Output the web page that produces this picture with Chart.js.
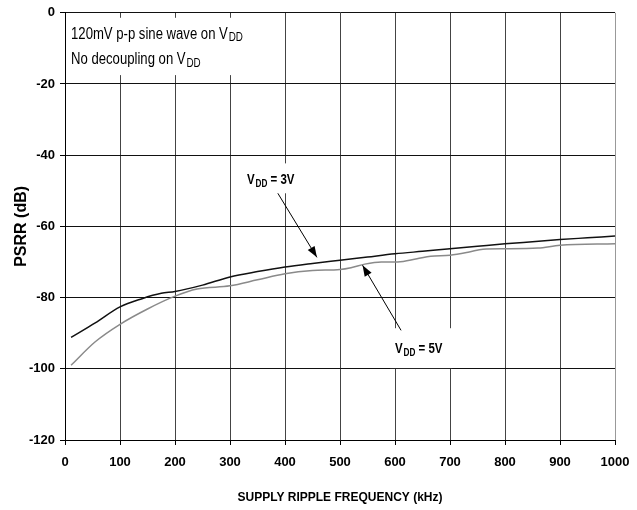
<!DOCTYPE html>
<html>
<head>
<meta charset="utf-8">
<script src="https://cdn.jsdelivr.net/npm/chart.js@4/dist/chart.umd.min.js"></script>
<style>
  html, body { margin: 0; padding: 0; background: #fff; }
  #wrap { position: relative; width: 637px; height: 510px; }
</style>
</head>
<body>
<div id="wrap"><canvas id="chart" width="637" height="510"></canvas></div>
<script>
// values
const freq3V = [11, 55, 100, 140, 175, 200, 250, 300, 350, 400, 450, 500, 550, 600, 650, 700, 750, 800, 850, 900, 950, 1000];
const psrr3V = [-91.2, -87.1, -82.6, -80.3, -78.8, -78.3, -76.5, -74.2, -72.7, -71.4, -70.4, -69.5, -68.6, -67.7, -67.0, -66.3, -65.6, -64.9, -64.3, -63.7, -63.2, -62.7];

const freq5V = [11, 55, 100, 150, 200, 240, 300, 350, 400, 450, 500, 520, 545, 575, 605, 640, 665, 700, 735, 760, 800, 860, 900, 1000];
const psrr5V = [-99.0, -92.4, -87.5, -83.2, -79.6, -77.6, -76.7, -75.0, -73.3, -72.4, -72.1, -71.6, -70.6, -70.0, -70.0, -69.1, -68.4, -68.1, -67.2, -66.4, -66.3, -66.1, -65.3, -64.9];

const xTicks = [0, 100, 200, 300, 400, 500, 600, 700, 800, 900, 1000];
const yTicks = [0, -20, -40, -60, -80, -100, -120];

const xTitle = 'SUPPLY RIPPLE FREQUENCY (kHz)';
const yTitle = 'PSRR (dB)';

const FONT = "'Liberation Sans', Arial, sans-serif";
const NARROW = 0.82; // no narrow face installed, squeeze the annotation text instead

// annotations, in data units
const noteLines = ['120mV p-p sine wave on V', 'No decoupling on V'];
const notes = [
  { box: [2, -1.4, 318, -17.5] },
  { box: [318, -42.3, 427, -50.7], text: 'V', sub: 'DD', rest: ' = 3V', at: [331, -47.1], from: [387, -50.7], to: [458, -68.7] },
  { box: [591, -88.6, 704, -99.8], text: 'V', sub: 'DD', rest: ' = 5V', at: [600, -94.5], from: [611, -89.2], to: [541, -70.9] }
];

function toPx(chart, p) {
  return [chart.scales.x.getPixelForValue(p[0]), chart.scales.y.getPixelForValue(p[1])];
}

function drawVdd(ctx, x, y, main, sub, rest, weight, size) {
  ctx.save();
  ctx.translate(x, y);
  ctx.scale(NARROW, 1);
  ctx.textBaseline = 'middle';
  ctx.textAlign = 'left';
  let cx = 0;
  ctx.font = weight + ' ' + size + 'px ' + FONT;
  ctx.fillText(main, cx, 0);
  cx += ctx.measureText(main).width + 1;
  ctx.font = weight + ' ' + Math.round(size * 0.72) + 'px ' + FONT;
  ctx.fillText(sub, cx, 4);
  cx += ctx.measureText(sub).width;
  ctx.font = weight + ' ' + size + 'px ' + FONT;
  ctx.fillText(rest, cx, 0);
  ctx.restore();
}

function arrow(ctx, a, b) {
  ctx.save();
  ctx.strokeStyle = '#000';
  ctx.fillStyle = '#000';
  ctx.lineWidth = 1;
  ctx.beginPath();
  ctx.moveTo(a[0], a[1]);
  ctx.lineTo(b[0], b[1]);
  ctx.stroke();
  const ang = Math.atan2(b[1] - a[1], b[0] - a[0]);
  const len = 11, w = 4;
  ctx.beginPath();
  ctx.moveTo(b[0], b[1]);
  ctx.lineTo(b[0] - len * Math.cos(ang) + w * Math.sin(ang), b[1] - len * Math.sin(ang) - w * Math.cos(ang));
  ctx.lineTo(b[0] - len * Math.cos(ang) - w * Math.sin(ang), b[1] - len * Math.sin(ang) + w * Math.cos(ang));
  ctx.closePath();
  ctx.fill();
  ctx.restore();
}

const annotate = {
  id: 'annotate',
  beforeDatasetsDraw(chart) {
    const ctx = chart.ctx;
    ctx.save();
    ctx.fillStyle = '#fff';
    notes.forEach(n => {
      const p1 = toPx(chart, [n.box[0], n.box[1]]);
      const p2 = toPx(chart, [n.box[2], n.box[3]]);
      ctx.fillRect(p1[0], p1[1], p2[0] - p1[0], p2[1] - p1[1]);
    });
    ctx.restore();
  },
  afterDatasetsDraw(chart) {
    const ctx = chart.ctx;
    ctx.save();
    ctx.fillStyle = '#000';
    const x0 = chart.scales.x.getPixelForValue(11);
    drawVdd(ctx, x0, chart.scales.y.getPixelForValue(-6.0), noteLines[0], 'DD', '', 'normal', 16);
    drawVdd(ctx, x0, chart.scales.y.getPixelForValue(-13.1), noteLines[1], 'DD', '', 'normal', 16);
    notes.slice(1).forEach(n => {
      const t = toPx(chart, n.at);
      drawVdd(ctx, t[0], t[1], n.text, n.sub, n.rest, 'bold', 14);
      arrow(ctx, toPx(chart, n.from), toPx(chart, n.to));
    });
    ctx.restore();
  }
};

new Chart(document.getElementById('chart'), {
  type: 'line',
  data: {
    datasets: [
      {
        label: 'VDD = 3V',
        data: freq3V.map((f, i) => ({ x: f, y: psrr3V[i] })),
        borderColor: '#111',
        borderWidth: 1.5,
        pointRadius: 0,
        cubicInterpolationMode: 'monotone'
      },
      {
        label: 'VDD = 5V',
        data: freq5V.map((f, i) => ({ x: f, y: psrr5V[i] })),
        borderColor: '#8a8a8a',
        borderWidth: 1.5,
        pointRadius: 0,
        cubicInterpolationMode: 'monotone'
      }
    ]
  },
  options: {
    responsive: false,
    animation: false,
    layout: { padding: { top: 12, right: 22, left: 0, bottom: 0 } },
    plugins: { legend: { display: false }, tooltip: { enabled: false } },
    scales: {
      x: {
        type: 'linear',
        min: 0,
        max: 1000,
        afterBuildTicks: s => { s.ticks = xTicks.map(v => ({ value: v })); },
        afterFit: s => { s.height = 70; s.paddingLeft = 0; s.paddingRight = 0; },
        ticks: {
          color: '#000', padding: 10, maxRotation: 0,
          callback: v => String(v),
          font: { family: FONT, size: 13, weight: 'bold' }
        },
        grid: {
          color: c => c.tick && c.tick.value === 1000 ? '#999' : (c.tick && c.tick.value === 0 ? '#000' : '#444'),
          lineWidth: 1,
          tickLength: 5,
          tickColor: '#000'
        },
        border: { color: '#000', width: 1 },
        title: { display: true, text: xTitle, color: '#000', padding: { top: 0, bottom: 5 }, font: { family: FONT, size: 12, weight: 'bold' } }
      },
      y: {
        min: -120,
        max: 0,
        afterBuildTicks: s => { s.ticks = yTicks.map(v => ({ value: v })); },
        afterFit: s => { s.width = 65; },
        ticks: { color: '#000', padding: 5, font: { family: FONT, size: 13, weight: 'bold' } },
        grid: { color: '#111', lineWidth: 1, tickLength: 5, tickColor: '#000' },
        border: { color: '#000', width: 1 },
        title: { display: true, text: yTitle, color: '#000', padding: { top: 12, bottom: 0 }, font: { family: FONT, size: 16, weight: 'bold' } }
      }
    }
  },
  plugins: [annotate]
});
</script>
</body>
</html>
